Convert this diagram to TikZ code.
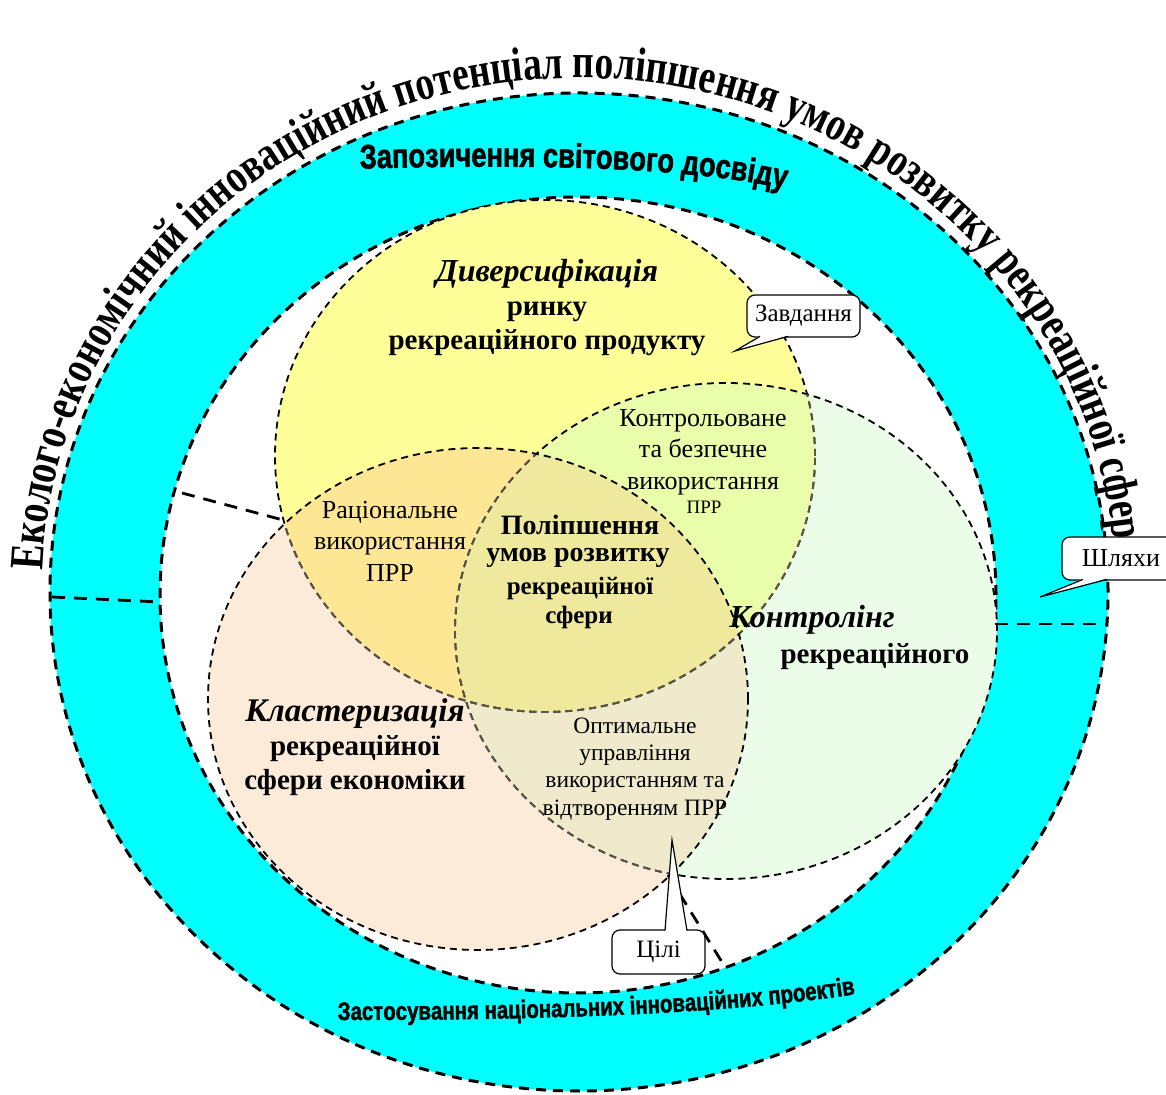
\documentclass[tikz,border=0pt]{standalone}
\usepackage{fontspec}
\setmainfont{Liberation Serif}
\newfontfamily\wordart[FakeStretch=0.78]{Liberation Serif}
\newfontfamily\ringfont[FakeStretch=0.8, FakeBold=1.6]{Liberation Sans}
\usetikzlibrary{decorations.text}
\definecolor{cyanring}{HTML}{00FFFF}
\definecolor{yelA}{HTML}{FFFF99}
\definecolor{grnB}{HTML}{EBFDE8}
\definecolor{pchC}{HTML}{FDEBDA}
\definecolor{colAC}{HTML}{FDE795}
\definecolor{colAB}{HTML}{EAFDAA}
\definecolor{colBC}{HTML}{F0EACD}
\definecolor{colABC}{HTML}{EEE99C}
\definecolor{lineg}{HTML}{5C5547}
\begin{document}
\begin{tikzpicture}[x=1pt,y=1pt,
  ringline/.style={line width=3pt, dash pattern=on 10pt off 7pt},
  circline/.style={line width=1.8pt, dash pattern=on 7pt off 5pt},
  divline/.style={line width=2.8pt, dash pattern=on 13pt off 9pt},
  callbox/.style={draw, fill=white, rounded corners=8pt, line width=1.2pt, inner sep=0pt},
  bt/.style={font=\fontsize{29}{34}\selectfont\bfseries, align=center, inner sep=0pt},
  bit/.style={font=\fontsize{32}{34}\selectfont\bfseries\itshape, align=center, inner sep=0pt},
  rt/.style={font=\fontsize{26}{31.5}\selectfont, align=center, inner sep=0pt},
  ot/.style={font=\fontsize{23.5}{27.3}\selectfont, align=center, inner sep=0pt},
  ct/.style={font=\fontsize{25}{30}\selectfont, inner sep=0pt}
]
\useasboundingbox (0,0) rectangle (1166,1094);
\fill[white] (0,0) rectangle (1166,1094);

% ring
\fill[cyanring, even odd rule] (579,502) ellipse [x radius=529, y radius=499]
  (578,499) ellipse [x radius=418, y radius=398];
\draw[ringline] (579,502) ellipse [x radius=529, y radius=499];
\draw[ringline] (578,499) ellipse [x radius=418, y radius=398];

% circle fills
\def\shA{(545,638) ellipse [x radius=270, y radius=256]}
\def\shB{(726,463) ellipse [x radius=271, y radius=248]}
\def\shC{(478,395) ellipse [x radius=270, y radius=251]}
\fill[yelA] \shA;
\fill[grnB] \shB;
\fill[pchC] \shC;
\begin{scope}\clip \shA; \fill[colAC] \shC; \end{scope}
\begin{scope}\clip \shA; \fill[colAB] \shB; \end{scope}
\begin{scope}\clip \shB; \fill[colBC] \shC; \end{scope}
\begin{scope}\clip \shA; \clip \shB; \fill[colABC] \shC; \end{scope}

% outlines
\draw[circline] \shA;
\draw[circline] \shB;
\begin{scope}\clip \shC; \draw[circline, lineg] \shA; \draw[circline, lineg] \shB; \end{scope}
\begin{scope}\clip \shB; \draw[circline, lineg] \shA; \end{scope}
\draw[circline] \shC;

% dividers
\coordinate (l1) at (52,497);
\coordinate (l2) at (160,492);
\coordinate (r1) at (995,470);
\coordinate (r2) at (1106,470);
\coordinate (w1) at (182,601);
\coordinate (w2) at (283,574);
\coordinate (b1) at (668,219);
\coordinate (b2) at (725,127);
\draw[divline] (l1) -- (l2);
\draw[divline] (r1) -- (r2);
\draw[divline] (w1) -- (w2);
\draw[divline] (b1) -- (b2);

% ring texts
\path[decorate, decoration={text along path, text align=center,
  text={|\wordart\bfseries\fontsize{48}{48}\selectfont|Еколого-економічний інноваційний потенціал поліпшення умов розвитку рекреаційної сфери}}]
  (579,502) ++(184:537 and 514) arc[start angle=184, end angle=-3, x radius=537, y radius=514];
\path[decorate, decoration={text along path, text align=center,
  text={|\ringfont\bfseries\fontsize{34}{34}\selectfont|Запозичення світового досвіду}}]
  (350,925) .. controls (550,931) and (700,926) .. (795,903);
\path[decorate, decoration={text along path, text align=center,
  text={|\ringfont\bfseries\fontsize{25.5}{25.5}\selectfont|Застосування національних інноваційних проектів}}]
  (343,74) .. controls (550,74) and (720,80) .. (850,99);

% inner texts
\node[bt] (div) at (547,786) {\textit{\fontsize{32}{34}\selectfont Диверсифікація}\\ринку\\рекреаційного продукту};
\node[rt] (kontr) at (703,642) {Контрольоване\\та безпечне\\використання};
\node[font=\fontsize{19}{19}\selectfont, inner sep=0pt] (prr1) at (704,587) {ПРР};
\node[rt] (rac) at (390,553) {Раціональне\\використання\\ПРР};
\node[font=\fontsize{28}{28}\selectfont\bfseries, inner sep=0pt] (pol1) at (580,569) {Поліпшення};
\node[font=\fontsize{28}{28}\selectfont\bfseries, inner sep=0pt] (pol2) at (578,536) {умов розвитку};
\node[font=\fontsize{25}{25}\selectfont\bfseries, inner sep=0pt] (pol3) at (580,506) {рекреаційної};
\node[font=\fontsize{25}{25}\selectfont\bfseries, inner sep=0pt] (pol4) at (579,477) {сфери};
\node[bit] (kl1) at (812,474) {Контролінг};
\node[bt] (kl2) at (875,437) {рекреаційного};
\node[bt] (klast) at (355,347) {\textit{\fontsize{33}{34}\selectfont Кластеризація}\\рекреаційної\\сфери економіки};
\node[ot] (opt) at (635,325) {Оптимальне\\управління\\використанням та\\відтворенням ПРР};

% callouts
\node[callbox, minimum width=113pt, minimum height=42pt, ct] (zav) at (803.5,778) {Завдання};
\coordinate (zavtip) at (735,743);
\fill[white] (760,758.5) -- (zavtip) -- (788,758.5) -- cycle;
\draw[line width=1.2pt] (760,757.6) -- (zavtip) -- (788,757.6);

\node[callbox, minimum width=118pt, minimum height=43pt, ct, font=\fontsize{26}{30}\selectfont] (shl) at (1121,535.5) {Шляхи};
\coordinate (shltip) at (1040,497);
\fill[white] (1083,515.5) -- (shltip) -- (1107,515.5) -- cycle;
\draw[line width=1.2pt] (1083,514.6) -- (shltip) -- (1107,514.6);

\node[callbox, minimum width=93pt, minimum height=44pt, ct] (cil) at (658.5,142) {Цілі};
\coordinate (ciltip) at (672,254);
\fill[white] (665,162.5) -- (ciltip) -- (687,162.5) -- cycle;
\draw[line width=1.2pt] (665,163.4) -- (ciltip) -- (687,163.4);
\end{tikzpicture}
\end{document}
